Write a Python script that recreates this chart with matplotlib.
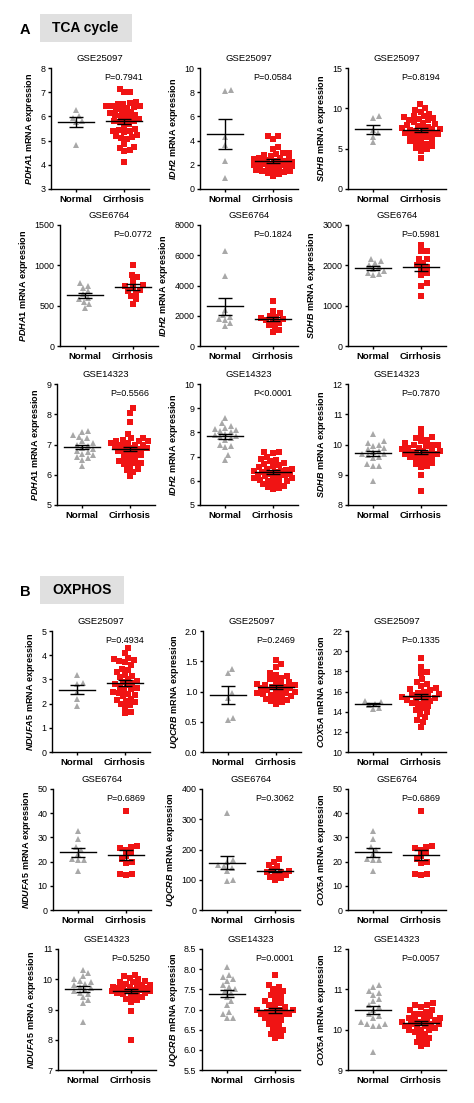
import numpy as np
import matplotlib.pyplot as plt
from matplotlib.patches import Rectangle

plt.rcParams['font.family'] = ['Liberation Sans', 'DejaVu Sans']
plt.rcParams['mathtext.fontset'] = 'custom'
plt.rcParams['mathtext.it'] = 'Liberation Sans:italic:bold'
plt.rcParams['mathtext.rm'] = 'Liberation Sans:bold'

W, H, DPI = 474, 1103, 100

datasets = ['GSE25097', 'GSE6764', 'GSE14323']
tca_genes = ['PDHA1', 'IDH2', 'SDHB']
ox_genes = ['NDUFA5', 'UQCRB', 'COX5A']
groups = ['Normal', 'Cirrhosis']

# ---------------- A: TCA cycle ----------------
pdha1_25097_normal = [6.28, 6.02, 5.95, 5.82, 5.75, 4.82]
pdha1_25097_cirr = [7.15, 7.0, 7.0, 6.6, 6.55, 6.5, 6.5, 6.45, 6.45, 6.45, 6.4, 6.35,
                    6.3, 6.25, 6.2, 6.15, 6.1, 6.05, 6.05, 6.0, 5.95, 5.9, 5.85, 5.8,
                    5.8, 5.75, 5.7, 5.6, 5.5, 5.45, 5.4, 5.4, 5.35, 5.25, 5.2, 5.15,
                    5.1, 5.05, 4.85, 4.75, 4.7, 4.6, 4.55, 4.1]
idh2_25097_normal = [8.1, 8.2, 4.3, 3.6, 2.3, 0.9]
idh2_25097_cirr = [4.4, 4.35, 4.15, 3.5, 3.3, 3.0, 2.95, 2.9, 2.8, 2.7, 2.6, 2.55,
                   2.5, 2.45, 2.4, 2.35, 2.3, 2.3, 2.25, 2.2, 2.2, 2.15, 2.1, 2.05,
                   2.0, 2.0, 1.95, 1.9, 1.85, 1.8, 1.75, 1.7, 1.6, 1.55, 1.5, 1.45,
                   1.4, 1.3, 1.2, 1.1]
sdhb_25097_normal = [9.0, 8.85, 7.3, 6.9, 6.5, 5.8]
sdhb_25097_cirr = [10.5, 10.1, 9.8, 9.6, 9.3, 9.1, 9.0, 8.9, 8.8, 8.7, 8.6, 8.5,
                   8.3, 8.2, 8.0, 7.9, 7.8, 7.7, 7.6, 7.5, 7.45, 7.4, 7.3, 7.2, 7.1,
                   7.0, 6.9, 6.8, 6.7, 6.6, 6.5, 6.4, 6.2, 6.0, 5.9, 5.8, 5.6, 5.5,
                   5.3, 5.1, 4.9, 4.7, 3.9]

pdha1_6764_normal = [780, 750, 720, 680, 640, 600, 580, 550, 520, 470]
pdha1_6764_cirr = [1000, 880, 850, 800, 760, 740, 720, 700, 680, 650, 620, 580, 520]
idh2_6764_normal = [6250, 4650, 2400, 2050, 1900, 1800, 1700, 1500, 1300]
idh2_6764_cirr = [2950, 2300, 2200, 2000, 1950, 1850, 1800, 1700, 1650, 1550,
                  1400, 1300, 1050, 950]
sdhb_6764_normal = [2150, 2100, 2050, 2000, 1950, 1900, 1850, 1820, 1780, 1750]
sdhb_6764_cirr = [2500, 2350, 2350, 2150, 2150, 2050, 2000, 1950, 1900, 1800,
                  1750, 1550, 1500, 1250]

pdha1_14323_normal = [7.45, 7.4, 7.3, 7.25, 7.2, 7.1, 7.05, 7.0, 6.95, 6.9, 6.85,
                      6.8, 6.75, 6.7, 6.65, 6.6, 6.55, 6.5, 6.3]
pdha1_14323_cirr = [8.2, 8.05, 7.75, 7.35, 7.2, 7.2, 7.15, 7.1, 7.1, 7.1, 7.05, 7.05,
                    7.0, 7.0, 7.0, 6.95, 6.95, 6.9, 6.9, 6.85, 6.8, 6.8, 6.75, 6.7,
                    6.65, 6.6, 6.55, 6.5, 6.45, 6.4, 6.4, 6.35, 6.3, 6.2, 6.15, 6.1, 5.95]
idh2_14323_normal = [8.6, 8.4, 8.25, 8.2, 8.15, 8.1, 8.05, 8.0, 7.95, 7.9, 7.85,
                     7.8, 7.75, 7.7, 7.5, 7.45, 7.4, 7.05, 6.85]
idh2_14323_cirr = [7.2, 7.2, 7.15, 7.0, 6.9, 6.85, 6.8, 6.75, 6.7, 6.65, 6.6, 6.55,
                   6.5, 6.5, 6.45, 6.4, 6.4, 6.35, 6.35, 6.3, 6.3, 6.25, 6.25, 6.2,
                   6.2, 6.15, 6.1, 6.1, 6.05, 6.0, 6.0, 5.95, 5.9, 5.85, 5.8, 5.75,
                   5.7, 5.65]
sdhb_14323_normal = [10.35, 10.1, 10.05, 10.0, 9.95, 9.9, 9.85, 9.8, 9.75, 9.7,
                     9.7, 9.65, 9.6, 9.55, 9.35, 9.3, 9.3, 8.8]
sdhb_14323_cirr = [10.5, 10.3, 10.25, 10.2, 10.15, 10.1, 10.05, 10.0, 10.0, 9.95,
                   9.9, 9.85, 9.8, 9.8, 9.75, 9.75, 9.7, 9.7, 9.7, 9.65, 9.6, 9.6,
                   9.55, 9.5, 9.45, 9.4, 9.35, 9.3, 9.25, 9.0, 8.45, 9.9, 10.0, 9.8]

# ---------------- B: OXPHOS ----------------
ndufa5_25097_normal = [3.2, 2.85, 2.8, 2.5, 2.2, 1.9]
ndufa5_25097_cirr = [4.3, 4.1, 3.9, 3.85, 3.8, 3.75, 3.7, 3.6, 3.45, 3.4, 3.3, 3.2,
                     3.15, 3.1, 3.0, 2.95, 2.9, 2.85, 2.8, 2.75, 2.7, 2.65, 2.6, 2.55,
                     2.5, 2.45, 2.4, 2.35, 2.3, 2.2, 2.15, 2.1, 2.05, 2.0, 1.95, 1.85,
                     1.65, 1.6]
uqcrb_25097_normal = [1.37, 1.3, 0.97, 0.9, 0.57, 0.53]
uqcrb_25097_cirr = [1.52, 1.45, 1.4, 1.3, 1.28, 1.25, 1.22, 1.2, 1.18, 1.15, 1.12,
                    1.1, 1.1, 1.08, 1.07, 1.05, 1.05, 1.03, 1.0, 1.0, 0.98, 0.96,
                    0.95, 0.93, 0.92, 0.9, 0.88, 0.86, 0.84, 0.82, 0.8, 1.12, 1.08,
                    1.02, 0.97]
cox5a_25097_normal = [15.1, 15.0, 14.8, 14.7, 14.4, 14.3]
cox5a_25097_cirr = [19.3, 18.4, 17.9, 17.8, 17.2, 16.9, 16.7, 16.5, 16.3, 16.1,
                    16.0, 15.9, 15.8, 15.6, 15.5, 15.4, 15.3, 15.2, 15.1, 15.0,
                    14.9, 14.8, 14.6, 14.4, 14.2, 14.0, 13.8, 13.5, 13.2, 13.0, 12.5,
                    15.7, 15.5, 16.2]

ndufa5_6764_normal = [32.5, 29.5, 26, 25, 23, 21, 20.5, 20.5, 16]
ndufa5_6764_cirr = [41, 26.5, 26, 25.5, 25, 23.5, 22.5, 21, 20, 19.5, 15, 14.5, 15]
uqcrb_6764_normal = [320, 165, 160, 150, 145, 140, 130, 100, 95]
uqcrb_6764_cirr = [170, 160, 150, 145, 135, 130, 125, 125, 120, 115, 110, 105, 100]
cox5a_6764_normal = [32.5, 29.5, 26, 25, 23, 21, 20.5, 20.5, 16]
cox5a_6764_cirr = [41, 26.5, 26, 25.5, 25, 23.5, 22.5, 21, 20, 19.5, 15, 14.5, 15]

ndufa5_14323_normal = [10.3, 10.2, 10.1, 10.0, 9.95, 9.9, 9.85, 9.8, 9.75, 9.7,
                       9.65, 9.6, 9.55, 9.5, 9.4, 9.3, 9.2, 8.6]
ndufa5_14323_cirr = [10.15, 10.1, 10.05, 10.0, 9.95, 9.9, 9.9, 9.85, 9.8, 9.8,
                     9.75, 9.75, 9.7, 9.7, 9.65, 9.65, 9.6, 9.6, 9.55, 9.55, 9.5,
                     9.5, 9.45, 9.4, 9.35, 9.3, 9.25, 8.95, 8.0, 9.7, 9.6, 9.8]
uqcrb_14323_normal = [8.05, 7.85, 7.8, 7.75, 7.7, 7.6, 7.55, 7.5, 7.45, 7.4, 7.3,
                      7.2, 7.1, 6.95, 6.9, 6.8, 6.8]
uqcrb_14323_cirr = [7.85, 7.6, 7.55, 7.5, 7.45, 7.4, 7.35, 7.3, 7.25, 7.2, 7.15,
                    7.1, 7.05, 7.0, 7.0, 6.95, 6.95, 6.9, 6.9, 6.85, 6.8, 6.75, 6.7,
                    6.65, 6.6, 6.55, 6.5, 6.45, 6.4, 6.35, 6.3, 7.0, 6.9, 7.1, 6.8]
cox5a_14323_normal = [11.1, 11.05, 10.95, 10.9, 10.85, 10.75, 10.7, 10.6, 10.55,
                      10.5, 10.4, 10.35, 10.3, 10.2, 10.15, 10.15, 10.1, 10.1, 9.45]
cox5a_14323_cirr = [10.65, 10.6, 10.6, 10.55, 10.5, 10.5, 10.45, 10.4, 10.4, 10.35,
                    10.3, 10.3, 10.25, 10.2, 10.2, 10.15, 10.15, 10.1, 10.1, 10.05,
                    10.0, 10.0, 9.95, 9.9, 9.85, 9.8, 9.75, 9.7, 9.65, 9.6, 10.2,
                    10.1, 10.3, 10.0, 10.25, 10.15]

tca_pvals = [['P=0.7941', 'P=0.0584', 'P=0.8194'],
             ['P=0.0772', 'P=0.1824', 'P=0.5981'],
             ['P=0.5566', 'P<0.0001', 'P=0.7870']]
ox_pvals = [['P=0.4934', 'P=0.2469', 'P=0.1335'],
            ['P=0.6869', 'P=0.3062', 'P=0.6869'],
            ['P=0.5250', 'P=0.0001', 'P=0.0057']]

tca_yticks = [[[3, 4, 5, 6, 7, 8], [0, 2, 4, 6, 8, 10], [0, 5, 10, 15]],
              [[0, 500, 1000, 1500], [0, 2000, 4000, 6000, 8000], [0, 1000, 2000, 3000]],
              [[5, 6, 7, 8, 9], [5, 6, 7, 8, 9, 10], [8, 9, 10, 11, 12]]]
ox_yticks = [[[0, 1, 2, 3, 4, 5], [0.0, 0.5, 1.0, 1.5, 2.0], [10, 12, 14, 16, 18, 20, 22]],
             [[0, 10, 20, 30, 40, 50], [0, 100, 200, 300, 400], [0, 10, 20, 30, 40, 50]],
             [[7, 8, 9, 10, 11], [5.5, 6.0, 6.5, 7.0, 7.5, 8.0, 8.5], [9, 10, 11, 12]]]

tca_data = [[(pdha1_25097_normal, pdha1_25097_cirr), (idh2_25097_normal, idh2_25097_cirr),
             (sdhb_25097_normal, sdhb_25097_cirr)],
            [(pdha1_6764_normal, pdha1_6764_cirr), (idh2_6764_normal, idh2_6764_cirr),
             (sdhb_6764_normal, sdhb_6764_cirr)],
            [(pdha1_14323_normal, pdha1_14323_cirr), (idh2_14323_normal, idh2_14323_cirr),
             (sdhb_14323_normal, sdhb_14323_cirr)]]
ox_data = [[(ndufa5_25097_normal, ndufa5_25097_cirr), (uqcrb_25097_normal, uqcrb_25097_cirr),
            (cox5a_25097_normal, cox5a_25097_cirr)],
           [(ndufa5_6764_normal, ndufa5_6764_cirr), (uqcrb_6764_normal, uqcrb_6764_cirr),
            (cox5a_6764_normal, cox5a_6764_cirr)],
           [(ndufa5_14323_normal, ndufa5_14323_cirr), (uqcrb_14323_normal, uqcrb_14323_cirr),
            (cox5a_14323_normal, cox5a_14323_cirr)]]

# layout in pixels
row_tops = [68, 225, 384, 631, 789, 949]
ROW_H = 121
AX_W = 98
XLIM = (-0.52, 1.52)
PX_PER_UNIT = AX_W / (XLIM[1] - XLIM[0])
left_spines = [[51, 200, 348], [60, 200, 348], [57, 200, 348],
               [52, 203, 348], [53, 202, 348], [58, 202, 348]]

GRAY = '#a8a8a8'
RED = '#f01414'


def swarm(vals, ylo, yhi, d=5.4, step=1.0, half=19):
    # column-scatter offsets (px) so the markers don't pile up, capped at +-half
    vals = np.asarray(vals, float)
    py = (vals - ylo) / (yhi - ylo) * ROW_H
    xs = np.zeros(len(vals))
    cands = [0.0]
    k = 1
    while k * step <= half:
        cands += [k * step, -k * step]
        k += 1
    placed = []
    for i in np.argsort(py):
        best, best_gap = 0.0, -1.0
        for off in cands:
            gap = min([np.hypot(off - qx, py[i] - qy) for qx, qy in placed] or [99.0])
            if gap >= d:
                best = off
                break
            if gap > best_gap:
                best, best_gap = off, gap
        xs[i] = best
        placed.append((best, py[i]))
    return xs / PX_PER_UNIT


def draw_panel(ax, normal, cirr, gene, ds, pval, yticks):
    ylo, yhi = yticks[0], yticks[-1]
    ax.set_xlim(*XLIM)
    ax.set_ylim(ylo, yhi)
    for i, (vals, mk, col, ms) in enumerate([(normal, '^', GRAY, 4.0), (cirr, 's', RED, 3.9)]):
        xs = swarm(vals, ylo, yhi)
        ax.plot(i + xs, vals, mk, color=col, ms=ms, mew=0, zorder=2)
        m = np.mean(vals)
        se = np.std(vals, ddof=1) / np.sqrt(len(vals))
        ax.plot([i - 0.38, i + 0.38], [m, m], color='k', lw=1.0, zorder=3)
        ax.errorbar(i, m, yerr=se, color='k', lw=1.0, capsize=5, capthick=1.0, zorder=3)
    ax.spines['top'].set_visible(False)
    ax.spines['right'].set_visible(False)
    ax.spines['left'].set_linewidth(1.0)
    ax.spines['bottom'].set_linewidth(1.0)
    ax.set_xticks([0, 1])
    ax.set_xticklabels(groups, fontsize=6.8, fontweight='bold')
    ax.set_yticks(yticks)
    if any(isinstance(t, float) for t in yticks):
        ax.set_yticklabels([f'{t:.1f}' for t in yticks])
    ax.tick_params(axis='y', labelsize=6.4, length=2.5, width=1.0, pad=1.5)
    ax.tick_params(axis='x', length=2.5, width=1.0, pad=1.5)
    ax.set_title(ds, fontsize=6.8, pad=5)
    ax.set_ylabel(r'$\mathit{' + gene + '}$ mRNA expression', fontsize=6.5,
                  fontweight='bold', labelpad=3)
    ax.text(1, 0.96, pval, transform=ax.get_xaxis_transform(), ha='center',
            va='top', fontsize=6.5)


fig = plt.figure(figsize=(W / DPI, H / DPI), dpi=DPI)

sections = [(tca_genes, tca_data, tca_pvals, tca_yticks, 0),
            (ox_genes, ox_data, ox_pvals, ox_yticks, 3)]
for genes, data, pvals, yts, r0 in sections:
    for r in range(3):
        for c in range(3):
            top = row_tops[r0 + r]
            left = left_spines[r0 + r][c]
            ax = fig.add_axes([left / W, 1 - (top + ROW_H) / H, AX_W / W, ROW_H / H])
            normal, cirr = data[r][c]
            draw_panel(ax, normal, cirr, genes[c], datasets[r], pvals[r][c], yts[r][c])

# section headers
for letter, title, y0, y1, x1 in [('A', 'TCA cycle', 14, 42, 132), ('B', 'OXPHOS', 576, 604, 124)]:
    fig.add_artist(Rectangle((40 / W, 1 - y1 / H), (x1 - 40) / W, (y1 - y0) / H,
                             transform=fig.transFigure, facecolor='#e0e0e0',
                             edgecolor='none'))
    fig.text(52 / W, 1 - (y0 + y1) / 2 / H, title, fontsize=10, fontweight='bold',
             va='center', ha='left')
    fig.text(20 / W, 1 - (y0 + y1) / 2 / H - 0.002, letter, fontsize=10.5,
             fontweight='bold', va='center', ha='left')

fig.savefig('out.png', dpi=DPI)
